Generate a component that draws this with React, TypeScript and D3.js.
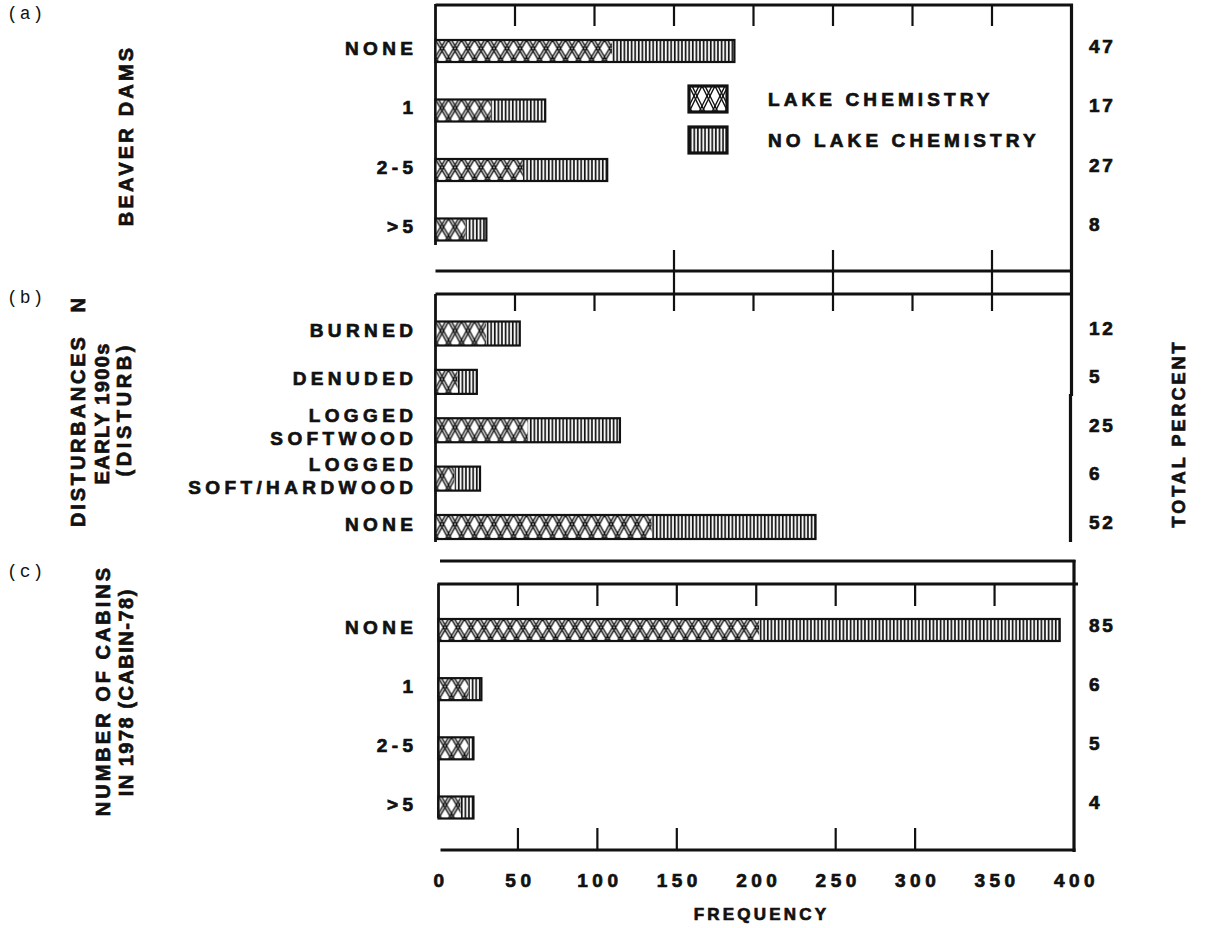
import React from "react";
import * as d3 from "d3";

// ---------- data ----------
const xTickValues = [0, 50, 100, 150, 200, 250, 300, 350, 400];
const innerTickValues = [50, 100, 150, 200, 250, 300, 350];
const gapTickValues = [150, 250, 350];
const bottomTickValues = [50, 100, 150, 250, 300];

const beaverCats = [["NONE"], ["1"], ["2-5"], [">5"]];
const beaverLake = [111, 35, 55, 19];
const beaverNoLake = [77, 34, 53, 13];
const beaverPct = ["47", "17", "27", "8"];

const disturbCats = [["BURNED"], ["DENUDED"], ["LOGGED", "SOFTWOOD"], ["LOGGED", "SOFT/HARDWOOD"], ["NONE"]];
const disturbLake = [32, 14, 58, 12, 136];
const disturbNoLake = [21, 12, 58, 16, 103];
const disturbPct = ["12", "5", "25", "6", "52"];

const cabinCats = [["NONE"], ["1"], ["2-5"], [">5"]];
const cabinLake = [202, 19, 19, 14];
const cabinNoLake = [189, 8, 3, 8];
const cabinPct = ["85", "6", "5", "4"];

const legendLabels = ["LAKE CHEMISTRY", "NO LAKE CHEMISTRY"];
const panelTags = ["(a)", "(b)", "(c)"];

// ---------- style ----------
const FONT = "'Liberation Sans', Arial, Helvetica, sans-serif";
const MONO = "'Liberation Mono', 'DejaVu Sans Mono', monospace";
const INK = "#111";
const HEAVY = { stroke: INK, strokeWidth: 0.7, paintOrder: "stroke" as const };

const xAB = d3.scaleLinear().domain([0, 400]).range([435.5, 1071.5]);
const xC = d3.scaleLinear().domain([0, 400]).range([438.5, 1074]);

type Panel = {
  cats: string[][];
  lake: number[];
  noLake: number[];
  pct: string[];
  yRange: [number, number];
  barH: number;
  x: d3.ScaleLinear<number, number>;
};

const panels: Panel[] = [
  { cats: beaverCats, lake: beaverLake, noLake: beaverNoLake, pct: beaverPct, yRange: [51, 229.5], barH: 22, x: xAB },
  { cats: disturbCats, lake: disturbLake, noLake: disturbNoLake, pct: disturbPct, yRange: [333.5, 527], barH: 24, x: xAB },
  { cats: cabinCats, lake: cabinLake, noLake: cabinNoLake, pct: cabinPct, yRange: [630, 807.5], barH: 22, x: xC },
];

const LS = 4.4;
const HATCH_W = 13;

function XHatch({ h }: { h: number }) {
  const w = HATCH_W;
  const offs = [0, 3];
  return (
    <pattern id={`xhatch${h}`} patternUnits="userSpaceOnUse" width={w} height={h}>
      <rect width={w} height={h} fill="#fff" />
      <g stroke={INK} strokeWidth={1.45}>
        {offs.map((d) => (
          <g key={d}>
            <line x1={d - w} y1={0} x2={d} y2={h} />
            <line x1={d} y1={0} x2={d + w} y2={h} />
            <line x1={w - d} y1={0} x2={-d} y2={h} />
            <line x1={2 * w - d} y1={0} x2={w - d} y2={h} />
          </g>
        ))}
      </g>
    </pattern>
  );
}

function Bars({ p }: { p: Panel }) {
  const y = d3.scalePoint<number>().domain(p.cats.map((_, i) => i)).range(p.yRange);
  const x = p.x;
  return (
    <g>
      {p.cats.map((lines, i) => {
        const cy = y(i)!;
        const x0 = x(0);
        const w1 = x(p.lake[i]) - x0;
        const w2 = x(p.lake[i] + p.noLake[i]) - x(p.lake[i]);
        return (
          <g key={i}>
            <g transform={`translate(${x0},${cy - p.barH / 2})`}>
              <rect x={0} y={0} width={w1} height={p.barH} fill={`url(#xhatch${p.barH})`} />
              <rect x={w1} y={0} width={w2} height={p.barH} fill="url(#vstripe)" />
              <rect x={0} y={0} width={w1 + w2} height={p.barH} fill="none" stroke={INK} strokeWidth={2.2} />
            </g>
            {lines.map((t, k) => (
              <text
                key={k}
                x={413 + LS}
                y={cy - 3 + (k - (lines.length - 1) / 2) * 23}
                textAnchor="end"
                dominantBaseline="central"
                fontFamily={FONT}
                fontWeight="bold"
                fontSize={19}
                letterSpacing={LS}
                fill={INK}
                style={HEAVY}
              >
                {t}
              </text>
            ))}
            <text
              x={1089}
              y={cy - 5}
              dominantBaseline="central"
              fontFamily={FONT}
              fontWeight="bold"
              fontSize={19}
              letterSpacing={2.6}
              fill={INK}
              style={HEAVY}
            >
              {p.pct[i]}
            </text>
          </g>
        );
      })}
    </g>
  );
}

function VText({ x, y, children, ls = 2.6, size = 20 }: any) {
  return (
    <text
      transform={`translate(${x},${y}) rotate(-90)`}
      textAnchor="middle"
      dominantBaseline="central"
      fontFamily={FONT}
      fontWeight="bold"
      fontSize={size}
      letterSpacing={ls}
      dx={ls / 2}
      fill={INK}
      style={HEAVY}
    >
      {children}
    </text>
  );
}

export default function App() {
  const PW = 3.2;
  const legendY = d3.scalePoint<number>().domain([0, 1]).range([99, 140]);
  return (
    <svg
      width={1205}
      height={928}
      style={{ position: "absolute", left: 0, top: 0, background: "#fff" }}
      xmlns="http://www.w3.org/2000/svg"
    >
      <defs>
        <XHatch h={22} />
        <XHatch h={24} />
        <XHatch h={26} />
        <pattern id="vstripe" patternUnits="userSpaceOnUse" width={3.6} height={10}>
          <rect width={3.6} height={10} fill="#fff" />
          <rect x={0.8} y={0} width={1.7} height={10} fill={INK} />
        </pattern>
      </defs>

      {/* panel tags */}
      {panelTags.map((t, i) => (
        <text
          key={t}
          x={7}
          y={[14, 298, 572][i]}
          dominantBaseline="central"
          fontFamily={MONO}
          fontSize={18}
          letterSpacing={2}
          fill={INK}
        >
          {t}
        </text>
      ))}

      {/* ---------- frame lines ---------- */}
      <g stroke={INK} fill="none">
        {/* panel a */}
        <line x1={xAB(0)} x2={xAB(400) + 1.5} y1={5} y2={5} strokeWidth={PW} />
        <line x1={xAB(0)} x2={xAB(0)} y1={4} y2={245} strokeWidth={2.8} />
        <line x1={xAB(0)} x2={xAB(400)} y1={271} y2={271} strokeWidth={PW} />
        <line x1={xAB(0)} x2={xAB(400)} y1={294} y2={294} strokeWidth={PW} />
        <line x1={xAB(400)} x2={xAB(400)} y1={4} y2={396} strokeWidth={PW} />
        <line x1={xAB(400) - 1} x2={xAB(400) - 1} y1={394} y2={542} strokeWidth={PW} />
        {innerTickValues.map((v) => (
          <line key={"ta" + v} x1={xAB(v)} x2={xAB(v)} y1={5} y2={26} strokeWidth={2.2} />
        ))}
        {gapTickValues.map((v) => (
          <line key={"tg" + v} x1={xAB(v)} x2={xAB(v)} y1={250} y2={294} strokeWidth={2.2} />
        ))}
        {/* panel b */}
        <line x1={xAB(0)} x2={xAB(0)} y1={294} y2={542} strokeWidth={2.8} />
        {innerTickValues.map((v) => (
          <line key={"tb" + v} x1={xAB(v)} x2={xAB(v)} y1={294} y2={311} strokeWidth={2.2} />
        ))}
        {/* panel c */}
        <line x1={xC(0) + 1.5} x2={xC(400) + 1.5} y1={561} y2={561} strokeWidth={PW} />
        <line x1={xC(0) - 1} x2={xC(400) + 4} y1={584} y2={584} strokeWidth={PW} />
        <line x1={xC(400)} x2={xC(400)} y1={560} y2={852} strokeWidth={PW} />
        <line x1={xC(0)} x2={xC(0)} y1={584} y2={818} strokeWidth={2.8} />
        {innerTickValues.map((v) => (
          <line key={"tc" + v} x1={xC(v)} x2={xC(v)} y1={584} y2={606} strokeWidth={2.2} />
        ))}
        {bottomTickValues.map((v) => (
          <line key={"tcb" + v} x1={xC(v)} x2={xC(v)} y1={828} y2={850} strokeWidth={2.2} />
        ))}
        <line x1={xC(0) + 2} x2={xC(400) + 1.5} y1={850} y2={850} strokeWidth={PW} />
      </g>

      {panels.map((p, i) => (
        <Bars key={i} p={p} />
      ))}

      {/* legend */}
      {legendLabels.map((t, i) => {
        const cy = legendY(i)!;
        return (
          <g key={t}>
            <g transform={`translate(689,${cy - 13})`}>
              <rect x={0} y={0} width={38} height={26} fill={i === 0 ? "url(#xhatch26)" : "url(#vstripe)"} />
              <rect x={0} y={0} width={38} height={26} fill="none" stroke={INK} strokeWidth={3.2} />
            </g>
            <text
              x={768}
              y={cy}
              dominantBaseline="central"
              fontFamily={FONT}
              fontWeight="bold"
              fontSize={19}
              letterSpacing={4.1}
              fill={INK}
              style={HEAVY}
            >
              {t}
            </text>
          </g>
        );
      })}

      {/* x tick labels */}
      {xTickValues.map((v) => (
        <text
          key={v}
          x={xC(v) + 2.5}
          y={880}
          textAnchor="middle"
          dominantBaseline="central"
          fontFamily={FONT}
          fontWeight="bold"
          fontSize={19}
          letterSpacing={4.5}
          fill={INK}
          style={HEAVY}
        >
          {v}
        </text>
      ))}
      <text
        x={760 + 1.5}
        y={914}
        textAnchor="middle"
        dominantBaseline="central"
        fontFamily={FONT}
        fontWeight="bold"
        fontSize={17}
        letterSpacing={3.2}
        fill={INK}
        style={HEAVY}
      >
        FREQUENCY
      </text>

      {/* axis titles */}
      <VText x={126} y={137} ls={3.2}>BEAVER DAMS</VText>
      <text
        transform={`translate(78,411) rotate(-90)`}
        textAnchor="middle"
        dominantBaseline="central"
        fontFamily={FONT}
        fontWeight="bold"
        fontSize={20}
        letterSpacing={2.8}
        fill={INK}
        style={HEAVY}
      >
        <tspan>DISTURBANCES</tspan>
        <tspan dx={22}>N</tspan>
      </text>
      <VText x={102} y={414} ls={1.4}>EARLY 1900s</VText>
      <VText x={124} y={411} ls={3.6}>(DISTURB)</VText>
      <VText x={103} y={692} ls={3}>NUMBER OF CABINS</VText>
      <VText x={126} y={693} ls={1.5}>IN 1978 (CABIN-78)</VText>
      <VText x={1179} y={435} ls={3} size={18}>TOTAL PERCENT</VText>
    </svg>
  );
}
